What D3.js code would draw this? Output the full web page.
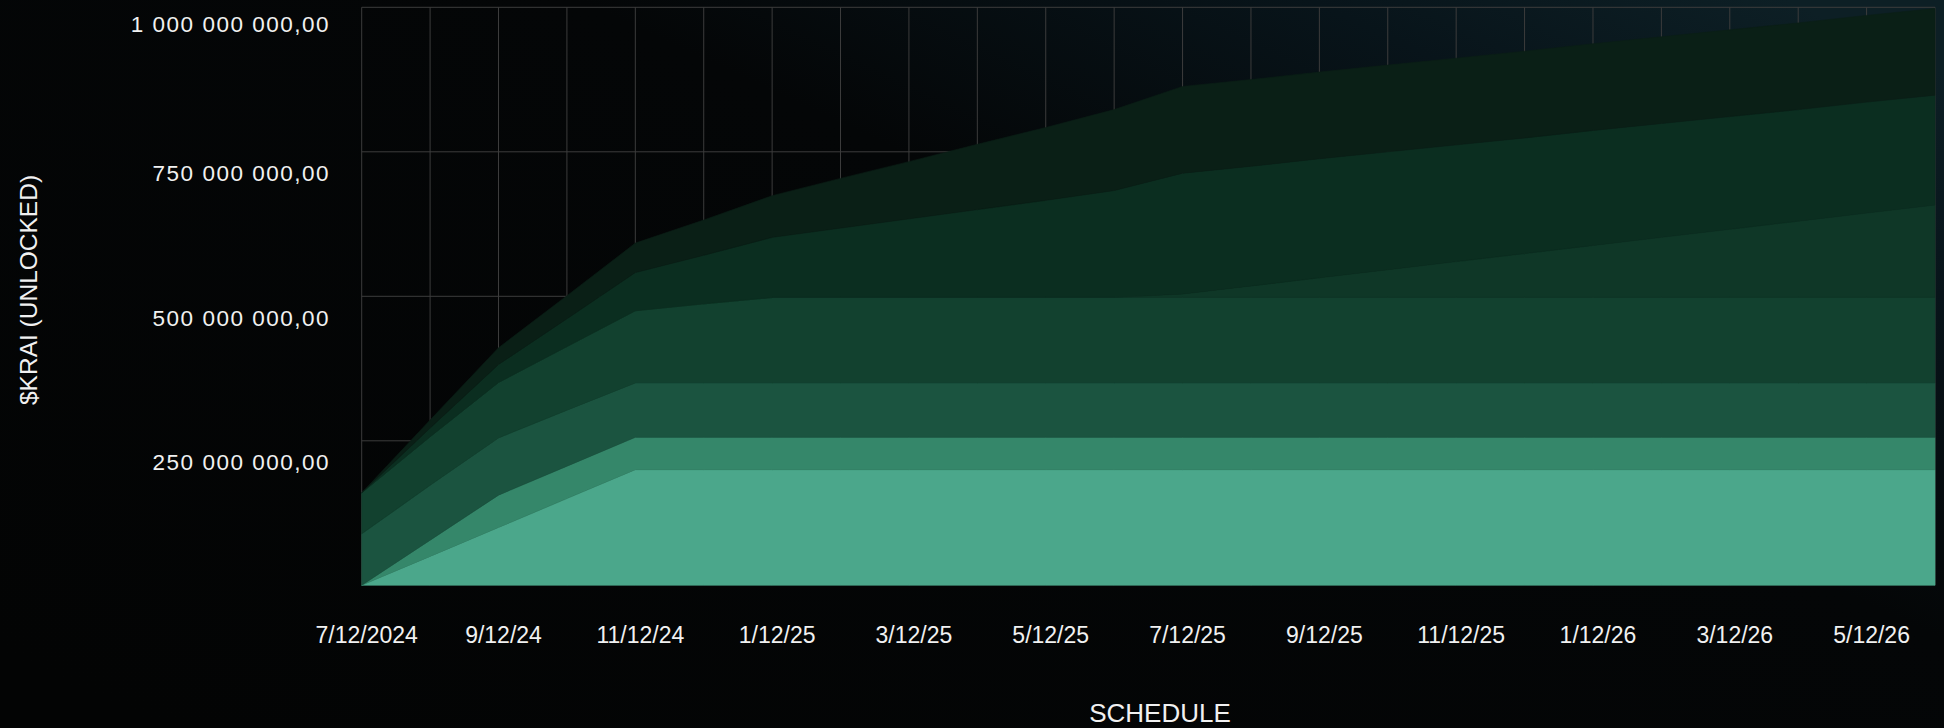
<!DOCTYPE html>
<html>
<head>
<meta charset="utf-8">
<script src="https://cdn.jsdelivr.net/npm/d3@7/dist/d3.min.js"></script>
<style>
  html, body { margin: 0; padding: 0; background: #040506; overflow: hidden; }
  svg { display: block; }
  text { font-family: "Liberation Sans", Arial, sans-serif; fill: #f1f1f1; }
</style>
</head>
<body>
<div id="chart"></div>
<script>
// months of the schedule (one point per month, every second one is labelled)
const months = [
  "7/12/2024", "8/12/24", "9/12/24", "10/12/24", "11/12/24", "12/12/24",
  "1/12/25", "2/12/25", "3/12/25", "4/12/25", "5/12/25", "6/12/25",
  "7/12/25", "8/12/25", "9/12/25", "10/12/25", "11/12/25", "12/12/25",
  "1/12/26", "2/12/26", "3/12/26", "4/12/26", "5/12/26", "6/12/26"
];
const yTicks = [250e6, 500e6, 750e6, 1000e6];

// unlocked tokens per tranche, in millions (bottom layer first)
const trancheA = [0, 50, 100, 150, 200, 200, 200, 200, 200, 200, 200, 200, 200, 200, 200, 200, 200, 200, 200, 200, 200, 200, 200, 200];
const trancheB = [0, 28, 56, 56, 56, 56, 56, 56, 56, 56, 56, 56, 56, 56, 56, 56, 56, 56, 56, 56, 56, 56, 56, 56];
const trancheC = [89, 95, 99, 97, 94, 94, 94, 94, 94, 94, 94, 94, 94, 94, 94, 94, 94, 94, 94, 94, 94, 94, 94, 94];
const trancheD = [71, 84, 96, 110, 125, 137, 148, 148, 148, 148, 148, 148, 148, 148, 148, 148, 148, 148, 148, 148, 148, 148, 148, 148];
const trancheE = [0, 0, 0, 0, 0, 0, 0, 0, 0, 0, 0, 0, 6, 20, 34, 48, 62, 76, 90, 104, 118, 132, 146, 160];
const trancheF = [0, 15, 31, 48, 66, 84, 104, 120, 136, 152, 168, 185, 209, 207, 206, 204, 202, 200, 199, 197, 195, 193, 192, 190];
const trancheG = [0, 14, 29, 40, 51, 61, 72, 86, 99, 113, 126, 140, 150, 150, 150, 150, 150, 150, 150, 150, 150, 150, 150, 150];

const keys = ["A", "B", "C", "D", "E", "F", "G"];
const colors = ["#4ba78b", "#35876a", "#1b5440", "#12412f", "#0f3727", "#0b2e20", "#0a1f16"];

const W = 1944, H = 728;
const plot = { left: 361.7, right: 1935, top: 7.3, bottom: 585.3 };

const rows = months.map((m, i) => ({
  month: m,
  A: trancheA[i] * 1e6, B: trancheB[i] * 1e6, C: trancheC[i] * 1e6, D: trancheD[i] * 1e6,
  E: trancheE[i] * 1e6, F: trancheF[i] * 1e6, G: trancheG[i] * 1e6
}));

const svg = d3.select("#chart").append("svg").attr("width", W).attr("height", H);

// background: near black, turning dark teal toward the top right
const defs = svg.append("defs");
const bg = defs.append("linearGradient").attr("id", "bg")
  .attr("x1", "0").attr("y1", "0.9").attr("x2", "1").attr("y2", "0.1");
bg.append("stop").attr("offset", "0").attr("stop-color", "#030404");
bg.append("stop").attr("offset", "0.62").attr("stop-color", "#040607");
bg.append("stop").attr("offset", "0.85").attr("stop-color", "#08141a");
bg.append("stop").attr("offset", "1").attr("stop-color", "#0d1f25");
svg.append("rect").attr("width", W).attr("height", H).attr("fill", "url(#bg)");

const x = d3.scalePoint().domain(months).range([plot.left, plot.right]);
const y = d3.scaleLinear().domain([0, 1000e6]).range([plot.bottom, plot.top]);

// grid (behind the areas)
const grid = svg.append("g").attr("stroke", "#3c3c3c").attr("stroke-width", 1);
grid.selectAll("line.v").data(months).join("line").attr("class", "v")
  .attr("x1", d => x(d)).attr("x2", d => x(d))
  .attr("y1", y(1000e6)).attr("y2", y(0));
grid.selectAll("line.h").data(yTicks).join("line").attr("class", "h")
  .attr("x1", plot.left).attr("x2", plot.right)
  .attr("y1", d => y(d)).attr("y2", d => y(d));

// stacked areas
const stack = d3.stack().keys(keys);
const layers = stack(rows);
const area = d3.area()
  .x(d => x(d.data.month))
  .y0(d => y(d[0]))
  .y1(d => y(d[1]));

svg.append("g").selectAll("path").data(layers).join("path")
  .attr("d", area)
  .attr("fill", (d, i) => colors[i])
  .attr("stroke", (d, i) => colors[i])
  .attr("stroke-width", 0.6);

// y tick labels
const fmt = d3.formatLocale({ decimal: ",", thousands: " ", grouping: [3], currency: ["", ""] }).format(",.2f");
const ls = 1.5;
svg.append("g").selectAll("text").data(yTicks).join("text")
  .attr("x", 328.5 + ls)
  .attr("y", d => y(d) + (d === d3.max(yTicks) ? 25 : 29.5))
  .attr("text-anchor", "end")
  .style("font-size", "22.5px")
  .style("letter-spacing", ls + "px")
  .text(d => fmt(d));

// x tick labels, every second month
svg.append("g").selectAll("text").data(months.filter((m, i) => i % 2 === 0)).join("text")
  .attr("x", d => x(d) + 5)
  .attr("y", 643.3)
  .attr("text-anchor", "middle")
  .style("font-size", "23px")
  .text(d => d);

// axis titles
svg.append("text")
  .attr("transform", "translate(37.3,290) rotate(-90)")
  .attr("text-anchor", "middle")
  .style("font-size", "24.5px")
  .text("$KRAI (UNLOCKED)");

svg.append("text")
  .attr("x", 1160).attr("y", 722)
  .attr("text-anchor", "middle")
  .style("font-size", "26px")
  .text("SCHEDULE");
</script>
</body>
</html>
